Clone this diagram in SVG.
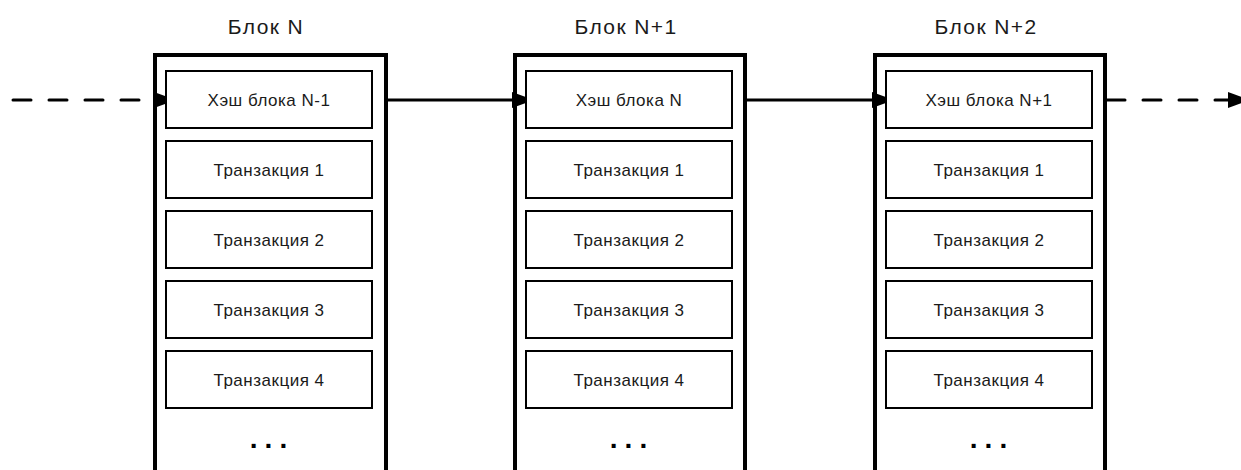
<svg xmlns="http://www.w3.org/2000/svg" width="1241" height="470" viewBox="0 0 1241 470">
<style>
.outer{fill:none;stroke:#000;stroke-width:4;stroke-linejoin:miter}
.cell{fill:#fff;stroke:#000;stroke-width:2}
.t{font-family:"Liberation Sans",Arial,sans-serif;font-size:17px;letter-spacing:0.5px;fill:#1a1a1a;text-anchor:middle;dominant-baseline:central}
.title{font-family:"Liberation Sans",Arial,sans-serif;font-size:21px;letter-spacing:1.4px;fill:#1a1a1a;text-anchor:middle}
.dots{font-family:"Liberation Sans",Arial,sans-serif;font-size:28px;font-weight:bold;fill:#000;text-anchor:middle;letter-spacing:7px}
.link{fill:none;stroke:#000;stroke-width:3}
.dash{stroke-dasharray:18 18;stroke-linecap:round}
</style>
<defs>
<marker id="ah" markerUnits="userSpaceOnUse" markerWidth="24" markerHeight="18" refX="22" refY="8" orient="auto" viewBox="0 0 24 18">
<path d="M0,0 L22,8 L0,16 z" fill="#000"/>
</marker>
</defs>
<g id="connectors">
<path class="link dash" d="M13,100 H176" marker-end="url(#ah)"/>
<path class="link" d="M386,100 H534" marker-end="url(#ah)"/>
<path class="link" d="M745,100 H894" marker-end="url(#ah)"/>
<path class="link dash" d="M1107,100 H1250" marker-end="url(#ah)"/>
</g>
<g id="block-n">
<text class="title" x="266" y="34">Блок N</text>
<path class="outer" d="M155,472 V55 H386 V472"/>
<rect class="cell" x="166" y="71" width="206" height="57"/>
<text class="t" x="269" y="100">Хэш блока N-1</text>
<rect class="cell" x="166" y="141" width="206" height="57"/>
<text class="t" x="269" y="170">Транзакция 1</text>
<rect class="cell" x="166" y="211" width="206" height="57"/>
<text class="t" x="269" y="240">Транзакция 2</text>
<rect class="cell" x="166" y="281" width="206" height="57"/>
<text class="t" x="269" y="310">Транзакция 3</text>
<rect class="cell" x="166" y="351" width="206" height="57"/>
<text class="t" x="269" y="380">Транзакция 4</text>
<text class="dots" x="272" y="448">...</text>
</g>
<g id="block-n1">
<text class="title" x="626" y="34">Блок N+1</text>
<path class="outer" d="M515,472 V55 H745 V472"/>
<rect class="cell" x="526" y="71" width="206" height="57"/>
<text class="t" x="629" y="100">Хэш блока N</text>
<rect class="cell" x="526" y="141" width="206" height="57"/>
<text class="t" x="629" y="170">Транзакция 1</text>
<rect class="cell" x="526" y="211" width="206" height="57"/>
<text class="t" x="629" y="240">Транзакция 2</text>
<rect class="cell" x="526" y="281" width="206" height="57"/>
<text class="t" x="629" y="310">Транзакция 3</text>
<rect class="cell" x="526" y="351" width="206" height="57"/>
<text class="t" x="629" y="380">Транзакция 4</text>
<text class="dots" x="632" y="448">...</text>
</g>
<g id="block-n2">
<text class="title" x="986" y="34">Блок N+2</text>
<path class="outer" d="M875,472 V55 H1105 V472"/>
<rect class="cell" x="886" y="71" width="206" height="57"/>
<text class="t" x="989" y="100">Хэш блока N+1</text>
<rect class="cell" x="886" y="141" width="206" height="57"/>
<text class="t" x="989" y="170">Транзакция 1</text>
<rect class="cell" x="886" y="211" width="206" height="57"/>
<text class="t" x="989" y="240">Транзакция 2</text>
<rect class="cell" x="886" y="281" width="206" height="57"/>
<text class="t" x="989" y="310">Транзакция 3</text>
<rect class="cell" x="886" y="351" width="206" height="57"/>
<text class="t" x="989" y="380">Транзакция 4</text>
<text class="dots" x="992" y="448">...</text>
</g>
</svg>
